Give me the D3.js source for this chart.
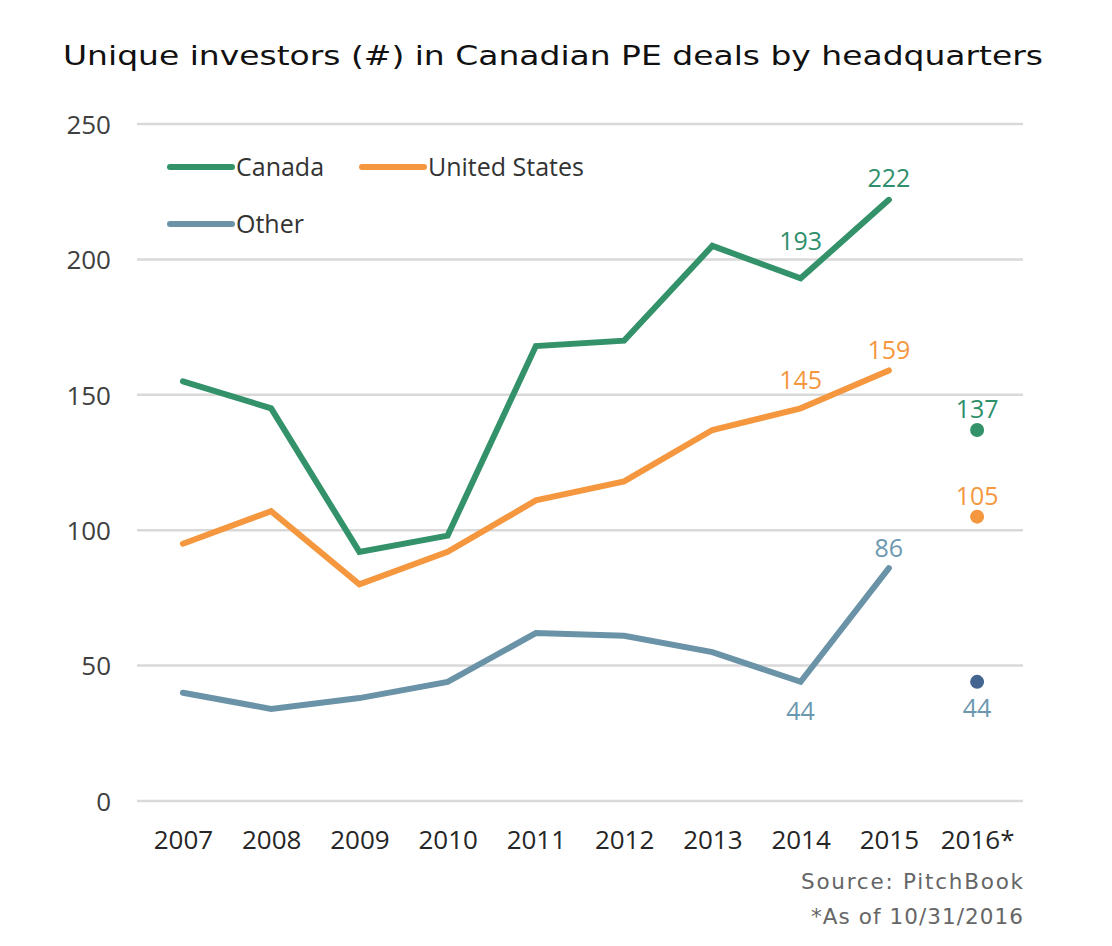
<!DOCTYPE html>
<html>
<head>
<meta charset="utf-8">
<script src="https://cdn.jsdelivr.net/npm/d3@7"></script>
<style>
  body { margin: 0; background: #fff; }
</style>
</head>
<body>
<div id="chart"></div>
<script>
//Chart data
var years = ["2007", "2008", "2009", "2010", "2011", "2012", "2013", "2014", "2015", "2016*"];
var lineYears = years.slice(0, 9);
var canada = [155, 145, 92, 98, 168, 170, 205, 193, 222];
var unitedStates = [95, 107, 80, 92, 111, 118, 137, 145, 159];
var other = [40, 34, 38, 44, 62, 61, 55, 44, 86];
var partialYear = { canada: 137, unitedStates: 105, other: 44 };
var yTicks = [0, 50, 100, 150, 200, 250];

var chartWidth = 1112, chartHeight = 946;
var plotLeft = 137, plotRight = 1023, plotTop = 124, plotBottom = 801;

var svg = d3.select("#chart").append("svg")
    .attr("width", chartWidth)
    .attr("height", chartHeight);

var x = d3.scalePoint().domain(years).range([plotLeft, plotRight]).padding(0.52);
var y = d3.scaleLinear().domain([0, 250]).range([plotBottom, plotTop]);

var tickFont = "'Open Sans', sans-serif";
var titleFont = "'DejaVu Sans', sans-serif";

//Title
svg.append("text")
    .attr("x", 63).attr("y", 65)
    .attr("font-family", titleFont)
    .attr("font-size", 27)
    .attr("fill", "#111")
    .attr("textLength", 980)
    .attr("lengthAdjust", "spacingAndGlyphs")
    .text("Unique investors (#) in Canadian PE deals by headquarters");

//Gridlines
svg.append("g").selectAll("line")
    .data(yTicks)
    .join("line")
        .attr("x1", plotLeft).attr("x2", plotRight)
        .attr("y1", d => y(d)).attr("y2", d => y(d))
        .attr("stroke", "#d9d9d9")
        .attr("stroke-width", 2.5);

//Y axis labels
var yAxis = svg.append("g")
    .attr("transform", `translate(${plotLeft - 26},0)`)
    .call(d3.axisLeft(y).tickValues(yTicks).tickSize(0).tickPadding(0));
yAxis.select(".domain").remove();
yAxis.selectAll("text")
    .attr("font-family", tickFont)
    .attr("font-size", 26)
    .attr("dy", "0.36em")
    .attr("fill", "#404040");

//X axis labels
var xAxis = svg.append("g")
    .attr("transform", `translate(0,${plotBottom + 48})`)
    .call(d3.axisBottom(x).tickSize(0).tickPadding(0));
xAxis.select(".domain").remove();
xAxis.selectAll("text")
    .attr("y", 0)
    .attr("dy", null)
    .attr("font-family", tickFont)
    .attr("font-size", 26)
    .attr("fill", "#262626");

//Series
var series = [
    { name: "Canada", values: canada, dot: partialYear.canada, color: "#33926a", dotColor: "#33926a", text: "#2e8f6b" },
    { name: "United States", values: unitedStates, dot: partialYear.unitedStates, color: "#f5973f", dotColor: "#f5973f", text: "#f5973f" },
    { name: "Other", values: other, dot: partialYear.other, color: "#6b93a8", dotColor: "#44658f", text: "#6b98b0" }
];

var line = d3.line()
    .x((d, i) => x(lineYears[i]))
    .y(d => y(d));

series.forEach(function(s) {
    svg.append("path")
        .attr("d", line(s.values))
        .attr("fill", "none")
        .attr("stroke", s.color)
        .attr("stroke-width", 6)
        .attr("stroke-linejoin", "miter")
        .attr("stroke-linecap", "round");

    svg.append("circle")
        .attr("cx", x("2016*"))
        .attr("cy", y(s.dot))
        .attr("r", 7)
        .attr("fill", s.dotColor);
});

//Data labels
var labels = [
    { year: "2014", value: 193, dy: -28, color: series[0].text },
    { year: "2015", value: 222, dy: -13, color: series[0].text },
    { year: "2016*", value: 137, dy: -12, color: series[0].text },
    { year: "2014", value: 145, dy: -19, color: series[1].text },
    { year: "2015", value: 159, dy: -11, color: series[1].text },
    { year: "2016*", value: 105, dy: -12, color: series[1].text },
    { year: "2014", value: 44, dy: 38, color: series[2].text },
    { year: "2015", value: 86, dy: -11, color: series[2].text },
    { year: "2016*", value: 44, dy: 35, color: series[2].text }
];

svg.append("g").selectAll("text")
    .data(labels)
    .join("text")
        .attr("x", d => x(d.year))
        .attr("y", d => y(d.value) + d.dy)
        .attr("text-anchor", "middle")
        .attr("font-family", tickFont)
        .attr("font-size", 25)
        .attr("fill", d => d.color)
        .text(d => d.value);

//Legend
var legend = [
    { name: "Canada", color: series[0].color, x: 170, y: 167 },
    { name: "United States", color: series[1].color, x: 362, y: 167 },
    { name: "Other", color: series[2].color, x: 170, y: 224 }
];

var items = svg.append("g").selectAll("g")
    .data(legend)
    .join("g")
        .attr("transform", d => `translate(${d.x},${d.y})`);

items.append("line")
    .attr("x1", 0).attr("x2", 62)
    .attr("stroke", d => d.color)
    .attr("stroke-width", 6)
    .attr("stroke-linecap", "round");

items.append("text")
    .attr("x", 66).attr("y", 9)
    .attr("font-family", tickFont)
    .attr("font-size", 25)
    .attr("fill", "#333")
    .text(d => d.name);

//Footnotes
var notes = [
    { text: "Source: PitchBook", width: 222 },
    { text: "*As of 10/31/2016", width: 212 }
];
svg.append("g").selectAll("text")
    .data(notes)
    .join("text")
        .attr("x", d => plotRight - d.width)
        .attr("y", (d, i) => 889 + i * 35)
        .attr("font-family", titleFont)
        .attr("font-size", 21.5)
        .attr("fill", "#666")
        .attr("textLength", d => d.width)
        .attr("lengthAdjust", "spacing")
        .text(d => d.text);
</script>
</body>
</html>
